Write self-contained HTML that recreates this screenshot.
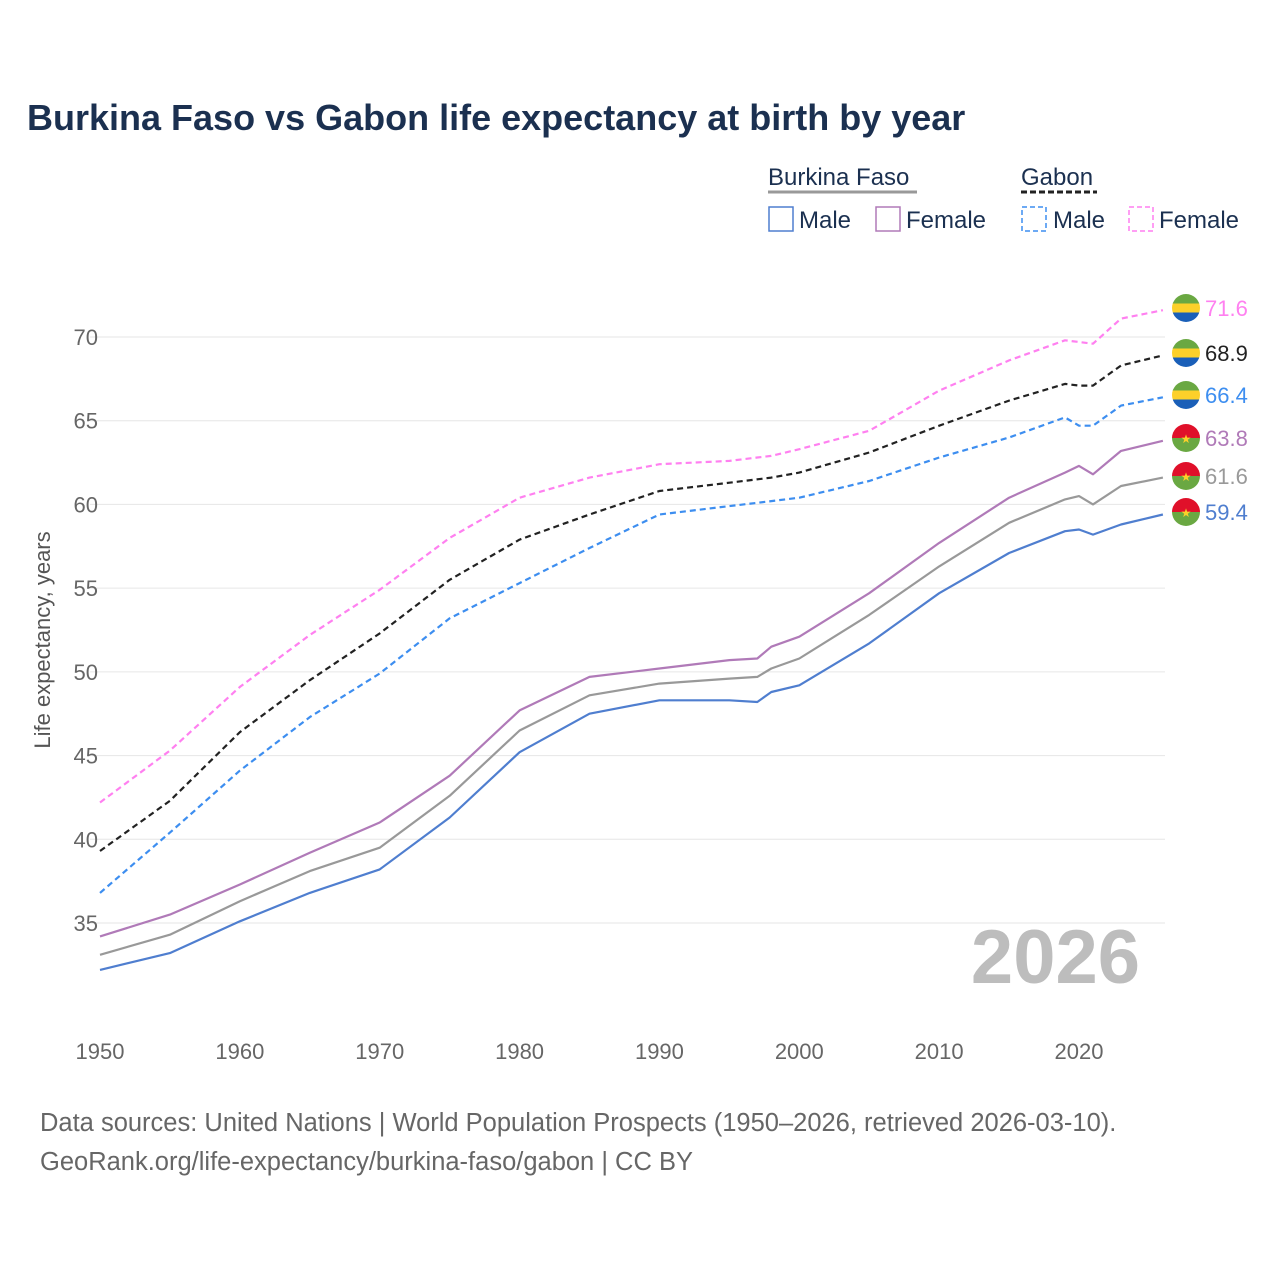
<!DOCTYPE html>
<html><head><meta charset="utf-8"><style>
body{margin:0;background:#fff;font-family:"Liberation Sans",sans-serif}
svg text{font-family:"Liberation Sans",sans-serif}
</style></head><body>
<svg id="chart" width="1280" height="1280" viewBox="0 0 1280 1280" xmlns="http://www.w3.org/2000/svg">
<text x="27" y="130" font-size="36" font-weight="bold" fill="#1b3050">Burkina Faso vs Gabon life expectancy at birth by year</text>
<g font-size="24" fill="#1b3050">
 <text x="768" y="185" fill="#1b3050">Burkina Faso</text>
 <line x1="768" y1="192" x2="917" y2="192" stroke="#999" stroke-width="3"/>
 <text x="1021" y="185" fill="#1b3050">Gabon</text>
 <line x1="1021" y1="192" x2="1097" y2="192" stroke="#222" stroke-width="3" stroke-dasharray="6,3"/>
 <g><rect x="769" y="207" width="24" height="24" fill="none" stroke="#4f7ecf" stroke-width="1.5"/><text x="799" y="228">Male</text></g>
 <g><rect x="876" y="207" width="24" height="24" fill="none" stroke="#b07ab8" stroke-width="1.5"/><text x="906" y="228">Female</text></g>
 <g><rect x="1022" y="207" width="24" height="24" fill="none" stroke="#3d8ef0" stroke-width="1.5" stroke-dasharray="5,3"/><text x="1053" y="228">Male</text></g>
 <g><rect x="1129" y="207" width="24" height="24" fill="none" stroke="#ff7ff0" stroke-width="1.5" stroke-dasharray="5,3"/><text x="1159" y="228">Female</text></g>
</g>
<g id="grid"></g><g id="xticks"></g>
<text x="1140" y="983" font-size="76" font-weight="bold" fill="#bdbdbd" text-anchor="end">2026</text>
<text transform="translate(50,640) rotate(-90)" font-size="22" fill="#555" text-anchor="middle">Life expectancy, years</text>
<g id="series"></g><g id="ends"></g>
<text x="40" y="1131" font-size="25.5" fill="#666">Data sources: United Nations | World Population Prospects (1950–2026, retrieved 2026-03-10).</text>
<text x="40" y="1170" font-size="25.5" fill="#666">GeoRank.org/life-expectancy/burkina-faso/gabon | CC BY</text>
</svg>
<script>
const yTicks=[35,40,45,50,55,60,65,70];
const xTicks=[1950,1960,1970,1980,1990,2000,2010,2020];
const years=[1950,1955,1960,1965,1970,1975,1980,1985,1990,1995,1997,1998,2000,2005,2010,2015,2019,2020,2021,2023,2026];
const gfVals=[42.2,45.3,49.1,52.2,54.9,58.0,60.4,61.6,62.4,62.6,62.8,62.9,63.3,64.4,66.8,68.6,69.8,69.7,69.6,71.1,71.6];
const gtVals=[39.3,42.3,46.4,49.5,52.3,55.5,57.9,59.4,60.8,61.3,61.5,61.6,61.9,63.1,64.7,66.2,67.2,67.1,67.1,68.3,68.9];
const gmVals=[36.8,40.4,44.1,47.3,49.9,53.2,55.3,57.4,59.4,59.9,60.1,60.2,60.4,61.4,62.8,64.0,65.2,64.7,64.7,65.9,66.4];
const bffVals=[34.2,35.5,37.3,39.2,41.0,43.8,47.7,49.7,50.2,50.7,50.8,51.5,52.1,54.7,57.7,60.4,61.9,62.3,61.8,63.2,63.8];
const bftVals=[33.1,34.3,36.3,38.1,39.5,42.6,46.5,48.6,49.3,49.6,49.7,50.2,50.8,53.4,56.3,58.9,60.3,60.5,60.0,61.1,61.6];
const bmVals=[32.2,33.2,35.1,36.8,38.2,41.3,45.2,47.5,48.3,48.3,48.2,48.8,49.2,51.7,54.7,57.1,58.4,58.5,58.2,58.8,59.4];
const X=y=>100+(y-1950)*13.986, Y=v=>337+(70-v)*16.743;
const NS="http://www.w3.org/2000/svg";
function mk(t,a,p){const e=document.createElementNS(NS,t);for(const k in a)e.setAttribute(k,a[k]);p.appendChild(e);return e;}
const grid=document.getElementById('grid');
yTicks.forEach(v=>{
 const l=mk('line',{x1:90,x2:1165,y1:Y(v),y2:Y(v),stroke:'#e6e6e6','stroke-width':1},grid);
 
 
 const t=mk('text',{x:98,y:Y(v)+8,'font-size':22,fill:'#666','text-anchor':'end'},grid);t.textContent=v;
 
 
});
const xt=document.getElementById('xticks');
xTicks.forEach(v=>{const t=mk('text',{x:X(v),y:1059,'font-size':22,fill:'#666','text-anchor':'middle'},xt);t.textContent=v;
 
 });
const series=[
 [gfVals,'#ff80f0','6,4','gabon-female',1],
 [gtVals,'#222','6,4','gabon-total',1],
 [gmVals,'#3d8ef0','6,4','gabon-male',1],
 [bffVals,'#b07ab8','','bf-female',0],
 [bftVals,'#999','','bf-total',0],
 [bmVals,'#4f7ecf','','bf-male',0]];
const sg=document.getElementById('series'),eg=document.getElementById('ends');
const lblY=[308,353,395,438,476,512];
series.forEach((s,i)=>{
 const d=years.map((y,j)=>(j?'L':'M')+X(y).toFixed(1)+','+Y(s[0][j]).toFixed(1)).join('');
 const p=mk('path',{d:d,fill:'none',stroke:s[1],'stroke-width':2.2,'stroke-dasharray':s[2],'stroke-linejoin':'round'},sg);
 
 
 const last=s[0][s[0].length-1], cy=lblY[i], cx=1186;
 const g=mk('g',{},eg);
 
 
 const cp='c'+i; const c=mk('clipPath',{id:cp},g); mk('circle',{cx:cx,cy:cy,r:14},c);
 if(s[4]){mk('rect',{x:cx-14,y:cy-14,width:28,height:10,fill:'#6aa842','clip-path':'url(#'+cp+')'},g);
  mk('rect',{x:cx-14,y:cy-4.5,width:28,height:9,fill:'#fcd02a','clip-path':'url(#'+cp+')'},g);
  mk('rect',{x:cx-14,y:cy+4.5,width:28,height:10,fill:'#1a5fb8','clip-path':'url(#'+cp+')'},g);}
 else{mk('rect',{x:cx-14,y:cy-14,width:28,height:14,fill:'#e0102a','clip-path':'url(#'+cp+')'},g);
  mk('rect',{x:cx-14,y:cy,width:28,height:14,fill:'#6aa842','clip-path':'url(#'+cp+')'},g);
  const st=mk('text',{x:cx,y:cy+5,'font-size':12,fill:'#fcd02a','text-anchor':'middle'},g);st.textContent='★';}
 const t=mk('text',{x:1205,y:cy+8,'font-size':22,fill:s[1]},eg);t.textContent=last.toFixed(1);
 
 
});
</script>
</body></html>
